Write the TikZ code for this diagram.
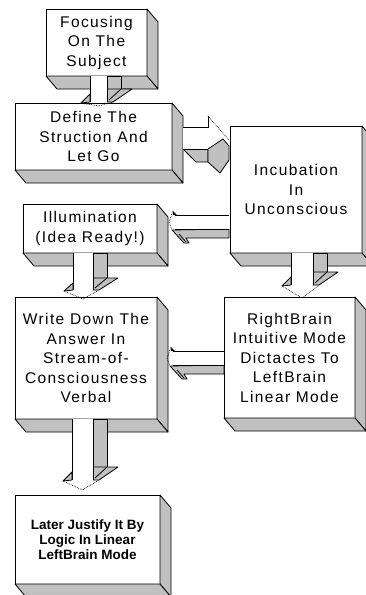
\documentclass[tikz,border=0pt]{standalone}
\usepackage{fontspec}
\setmainfont{Liberation Sans}
\newfontfamily\boxfont{Liberation Sans}[LetterSpace=9]
\newfontfamily\smallboxfont{Liberation Sans}
\definecolor{silv}{RGB}{192,192,192}
\tikzset{
  dbox/.style={draw, fill=white, line width=0.9pt, inner sep=0pt, outer sep=0pt,
    align=center, anchor=north west, font=\boxfont\fontsize{15.5}{19.5}\selectfont},
  face/.style={draw, fill=silv, line width=0.8pt, line join=round},
  edge/.style={line width=0.8pt},
  hid/.style={line width=0.7pt, densely dotted}
}
% name, x, y, width, height, text
\newcommand\mybox[6]{%
  \node[dbox, minimum width=#4pt, minimum height=#5pt] (#1) at (#2,#3) {#6};
  \path[face] (#1.north east) -- ++(11,13) -- ([shift={(11,13)}]#1.south east) -- (#1.south east) -- cycle;
  \path[face] (#1.south west) -- (#1.south east) -- ([shift={(11,13)}]#1.south east) -- ([shift={(11,13)}]#1.south west) -- cycle;
}
% downward block arrow: x left, shaft width, y start, y wing, y head base, y tip
\newcommand\darr[6]{%
  \begin{scope}[shift={(#1,0)}]
    \path[face] (#2,#3) -- (#2+14,#3) -- (#2+14,#4) -- (#2,#4) -- cycle;
    \path[face] (#2,#4) -- (#2+25,#4) -- (#2+6,#5) -- (#2,#5) -- cycle;
    \draw[edge] (#2+14,#4) -- (#2+2,#5-2);
    \fill[white] (0,#3) rectangle (#2,#5);
    \draw[edge] (0,#3) -- (0,#5) (#2,#3) -- (#2,#5);
    \path[face] (0,#4+5) -- (0,#5) -- (-9,#5+1) -- cycle;
    \draw[hid] (-9,#5+1) -- (#2/2,#6) -- (#2+6,#5);
  \end{scope}}
% leftward block arrow: x left, x right, y top
\newcommand\larr[3]{%
  \path[face] (#2,#3+14) -- (#2,#3+23) -- (#1+11,#3+23) -- (#1+14,#3+28) -- (#1+9,#3+28) -- (#1-3,#3+15) -- cycle;
  \draw[edge] (#1+4,#3+19) -- (#1+11,#3+27);
  \fill[white] (#1,#3) rectangle (#2,#3+14);
  \draw[edge] (#1,#3) -- (#2,#3) (#1,#3+14) -- (#2,#3+14);
  \fill (#1-2,#3-4) -- (#1+2,#3) -- (#1-2,#3) -- cycle;
  \draw[hid] (#1-2,#3-4) -- (#1-6,#3+7) -- (#1-3,#3+15);
}
\begin{document}
\begin{tikzpicture}[x=1pt,y=-1pt]
\useasboundingbox[fill=white] (0,0) rectangle (366,595);

\mybox{b1}{46}{9}{101}{67}{Focusing\\On The\\Subject}
\mybox{b2}{15}{103}{157}{67}{Define The\\Struction And\\Let Go}
\mybox{b3}{230}{126}{132}{127}{Incubation\\In\\Unconscious}
\mybox{b4}{23}{204}{134}{49}{Illumination\\(Idea Ready!)}
\mybox{b5}{15}{297}{142}{122}{Write Down The\\Answer In\\Stream-of-\\Consciousness\\Verbal}
\mybox{b7}{224}{297}{131}{121}{RightBrain\\Intuitive Mode\\Dictactes To\\LeftBrain\\Linear Mode}
\node[dbox, minimum width=145pt, minimum height=89pt,
  font=\smallboxfont\bfseries\fontsize{13.5}{15}\selectfont] (b6) at (15,495)
  {Later Justify It By\\Logic In Linear\\LeftBrain Mode};
\path[face] (b6.north east) -- ++(11,13) -- ([shift={(11,13)}]b6.south east) -- (b6.south east) -- cycle;
\path[face] (b6.south west) -- (b6.south east) -- ([shift={(11,13)}]b6.south east) -- ([shift={(11,13)}]b6.south west) -- cycle;

% vertical arrows
\darr{90}{17}{76}{89}{102}{106}
\darr{291}{22}{253}{272}{285}{298}
\darr{73}{20}{253}{278}{290}{299}
\darr{72}{21}{419}{467}{480}{490}

% rightward arrow b2 -> b3
\path[face] (183,149) -- (208,149) -- (208,162) -- (196,162) -- cycle;
\path[face] (208,149) -- (223,139) -- (229,146) -- (229,160) -- (220,173) -- (208,162) -- cycle;
\fill[white] (183,127) rectangle (208,149);
\draw[edge] (183,127) -- (208,127) -- (208,116) (183,149) -- (208,149);
\draw[hid] (208,116) -- (229,140);

% leftward arrows
\larr{175}{229}{215}
\larr{173}{224}{351}
\end{tikzpicture}
\end{document}
